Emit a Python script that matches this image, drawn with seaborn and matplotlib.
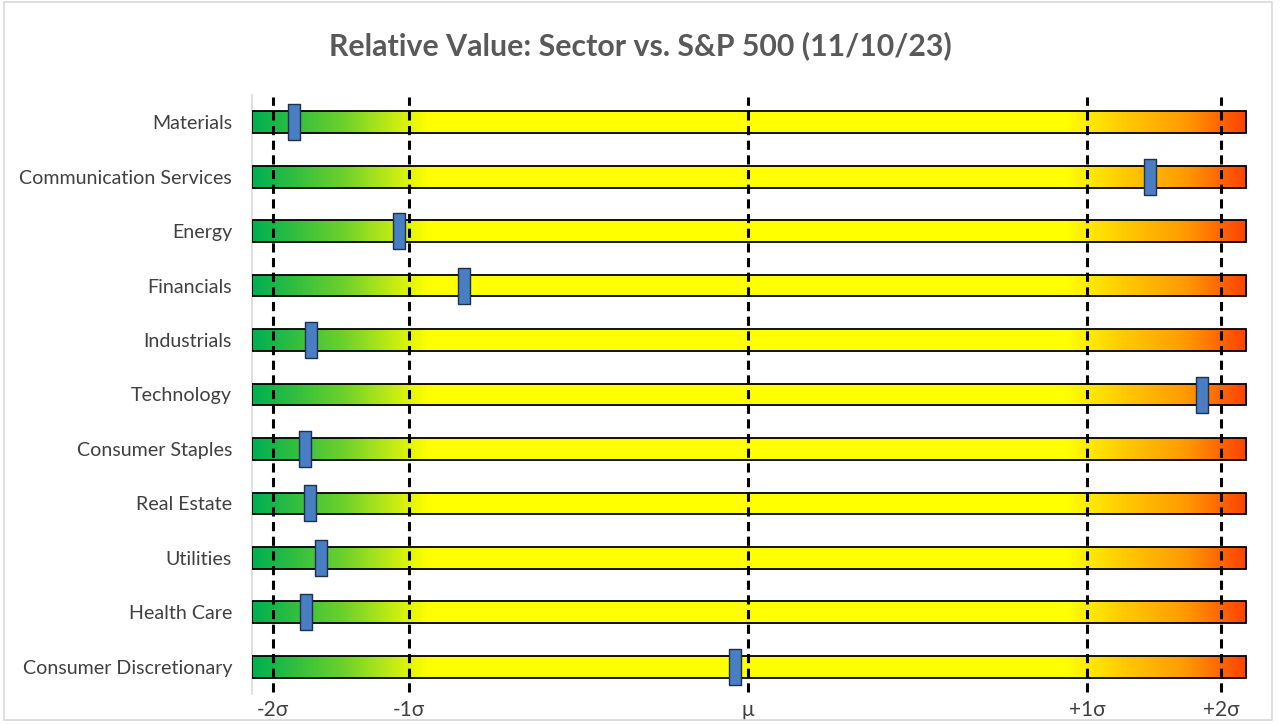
import matplotlib
matplotlib.use('Agg')
import matplotlib.pyplot as plt
import numpy as np
import pandas as pd
import seaborn as sns
from matplotlib.colors import LinearSegmentedColormap
from matplotlib.patches import Rectangle

# Data (positions on a 0-100 scale spanning each bar)
sectors = ['Materials', 'Communication Services', 'Energy', 'Financials',
           'Industrials', 'Technology', 'Consumer Staples', 'Real Estate',
           'Utilities', 'Health Care', 'Consumer Discretionary']
values = [4.3, 90.35, 14.8, 21.34, 6.01, 95.6, 5.41, 5.85, 6.99, 5.48, 48.6]
bar_len = [100] * len(sectors)
tick_pos = [2.16, 15.84, 49.92, 84.0, 97.5]
tick_labels = ['-2\u03c3', '-1\u03c3', '\u03bc', '+1\u03c3', '+2\u03c3']
title = 'Relative Value: Sector vs. S&P 500 (11/10/23)'

df = pd.DataFrame({'sector': sectors, 'value': values, 'bar': bar_len})

sns.set_style('white')
plt.rcParams['font.family'] = ['Lato', 'DejaVu Sans']

fig = plt.figure(figsize=(12.8, 7.25), dpi=100)
ax = fig.add_axes([251.5 / 1280, 1 - 694 / 725, (1256 - 251.5) / 1280, (694 - 95) / 725])

# gradient colour scale: green -> yellow -> orange/red
grad = LinearSegmentedColormap.from_list('rv', [
    (0.0, '#00B050'), (0.09, '#6CD02C'), (0.175, '#FFFF00'),
    (0.82, '#FFFF00'), (0.88, '#FFC800'), (0.94, '#FF9A00'), (1.0, '#FF4300')])

sns.barplot(data=df, x='bar', y='sector', orient='h', width=0.4,
            facecolor='none', edgecolor='black', linewidth=1.3, ax=ax)

ramp = np.linspace(0, 1, 512).reshape(1, -1)
for patch in ax.patches:
    patch.set_zorder(3)
    x0, y0 = patch.get_x(), patch.get_y()
    w, h = patch.get_width(), patch.get_height()
    im = ax.imshow(ramp, cmap=grad, aspect='auto', extent=(x0, x0 + w, y0 + h, y0),
                   zorder=2, interpolation='bilinear')
    im.set_clip_path(patch)

for xp in tick_pos:
    ax.axvline(xp, color='black', linewidth=2.2, dashes=(3, 1.8), zorder=4,
               ymin=0.003, ymax=0.997)

marker_verts = [(-0.32, -1), (0.32, -1), (0.32, 1), (-0.32, 1), (-0.32, -1)]
sns.scatterplot(data=df, x='value', y='sector', marker=marker_verts, s=700,
                color='#4A7EC2', edgecolor='#1F2F4F', linewidth=1.0, zorder=5, ax=ax)

ax.set_xlim(0, 101)
ax.set_ylim(len(sectors) - 0.5, -0.5)
ax.set_xticks(tick_pos)
ax.set_xticklabels(tick_labels)
ax.set_xlabel('')
ax.set_ylabel('')
ax.tick_params(axis='both', length=0, colors='#404040')
ax.tick_params(axis='y', pad=14, labelsize=14.1)
ax.tick_params(axis='x', pad=4, labelsize=15)
for s in ['top', 'right', 'bottom']:
    ax.spines[s].set_visible(False)
ax.spines['left'].set_color('#D9D9D9')
ax.spines['left'].set_linewidth(1.2)

fig.text(0.5, 1 - 46 / 725, title, ha='center', va='center', fontsize=21.8,
         fontweight='bold', color='#595959')

fig.patches.append(Rectangle((4 / 1280, 5 / 725), 1268 / 1280, 718 / 725,
                             transform=fig.transFigure, fill=False,
                             edgecolor='#D9D9D9', linewidth=1.2))

fig.savefig('out.png', dpi=100)
